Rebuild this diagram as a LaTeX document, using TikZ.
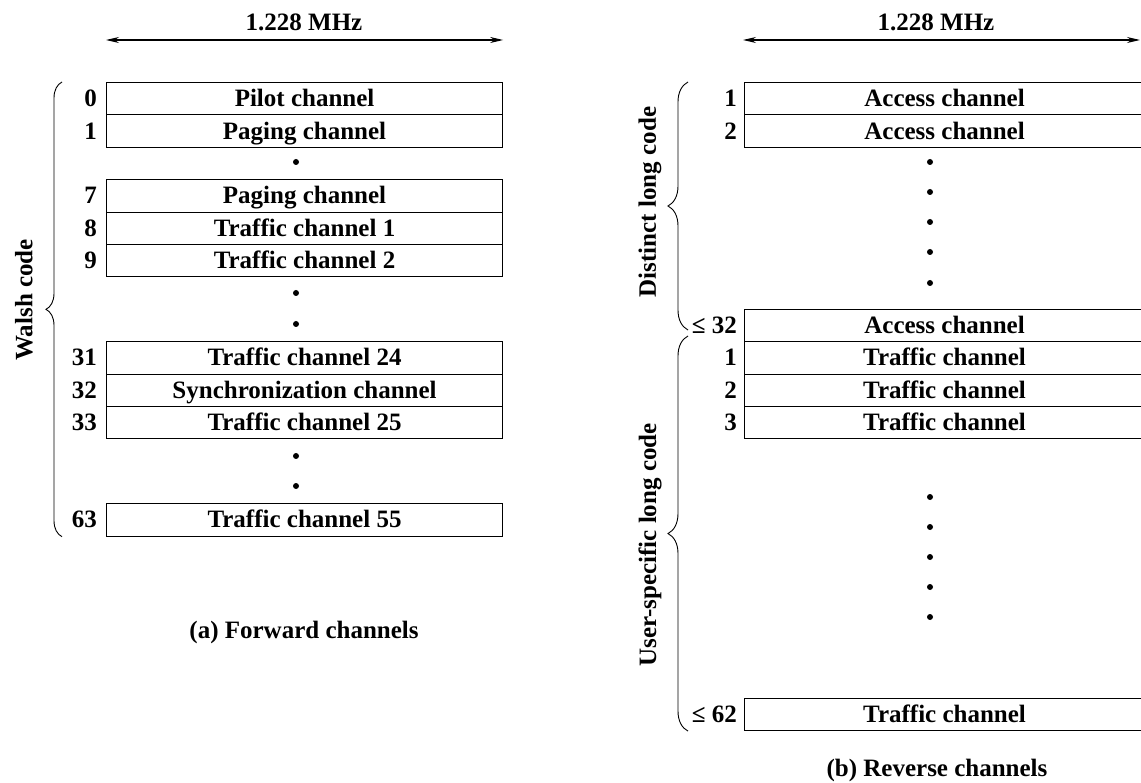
\documentclass[tikz,border=0pt]{standalone}
\usepackage{fontspec}
\setmainfont{Liberation Serif}
\usetikzlibrary{arrows.meta,positioning,decorations.pathreplacing}

\tikzset{
  txt/.style={font=\fontsize{25}{28}\selectfont\bfseries, inner sep=0pt},
  chan/.style={txt, draw, line width=1.1pt, minimum width=#1, minimum height=32.4pt,
    text height=19pt, text depth=3pt, anchor=north west},
  chan/.default=396pt,
  num/.style={txt, text height=19pt, text depth=3pt},
  dimarrow/.style={line width=1.1pt, {Stealth[length=13pt,width=6pt]}-{Stealth[length=13pt,width=6pt]}},
  bracedeco/.style={line width=0.9pt, decorate, decoration={brace, amplitude=#1}},
  bracedeco/.default=16pt,
  vdot/.style={fill=black}
}

\begin{document}
\begin{tikzpicture}[x=1pt, y=-1pt]
\useasboundingbox (0,0) rectangle (1141,783);

% (a) forward channels
\foreach \r/\n/\t in {0/0/Pilot channel, 1/1/Paging channel, 3/7/Paging channel,
    4/8/Traffic channel 1, 5/9/Traffic channel 2, 8/31/Traffic channel 24,
    9/32/Synchronization channel, 10/33/Traffic channel 25, 13/63/Traffic channel 55}{
  \node[chan] (f\n) at (106,82+\r*32.4) {\t};
  \node[num, left=9pt of f\n] (fn\n) {\n};
}
\foreach \y in {162,293,324,456,486}
  \fill[vdot] (296,\y) circle (3pt);

\node[txt] (fbw) at (304,22) {1.228 MHz};
\draw[dimarrow] ([yshift=42pt]f0.north west) -- ([yshift=42pt]f0.north east);
\draw[bracedeco] ([xshift=-44pt]f63.south west) -- ([xshift=-44pt]f0.north west);
\node[txt, rotate=90] (walsh) at (24,300) {Walsh code};
\node[txt] (fcap) at (304,632) {(a) Forward channels};

% (b) reverse channels
\foreach \r/\n/\m/\t in {0/r1/1/Access channel, 1/r2/2/Access channel,
    7/ra32/≤ 32/Access channel, 8/rt1/1/Traffic channel, 9/rt2/2/Traffic channel,
    10/rt3/3/Traffic channel, 19/rt62/≤ 62/Traffic channel}{
  \node[chan=400pt] (\n) at (744,82+\r*32.4) {\t};
  \node[num, left=7pt of \n] (n\n) {\m};
}
\foreach \y in {162,192,222,252,283,497,527,557,587,617}
  \fill[vdot] (930,\y) circle (3pt);

\node[txt] (rbw) at (936,22) {1.228 MHz};
\draw[dimarrow] (743,40) -- (1140,40);
\draw[bracedeco=20pt] (688,330) -- ([xshift=-56pt]r1.north west);
\draw[bracedeco=20pt] ([xshift=-56pt]rt62.south west) -- (688,336);
\node[txt, rotate=90] (distinct) at (650,202) {Distinct long code};
\node[txt, rotate=90] (userspec) at (650,545) {User-specific long code};
\node[txt] (rcap) at (937,770) {(b) Reverse channels};
\end{tikzpicture}
\end{document}
